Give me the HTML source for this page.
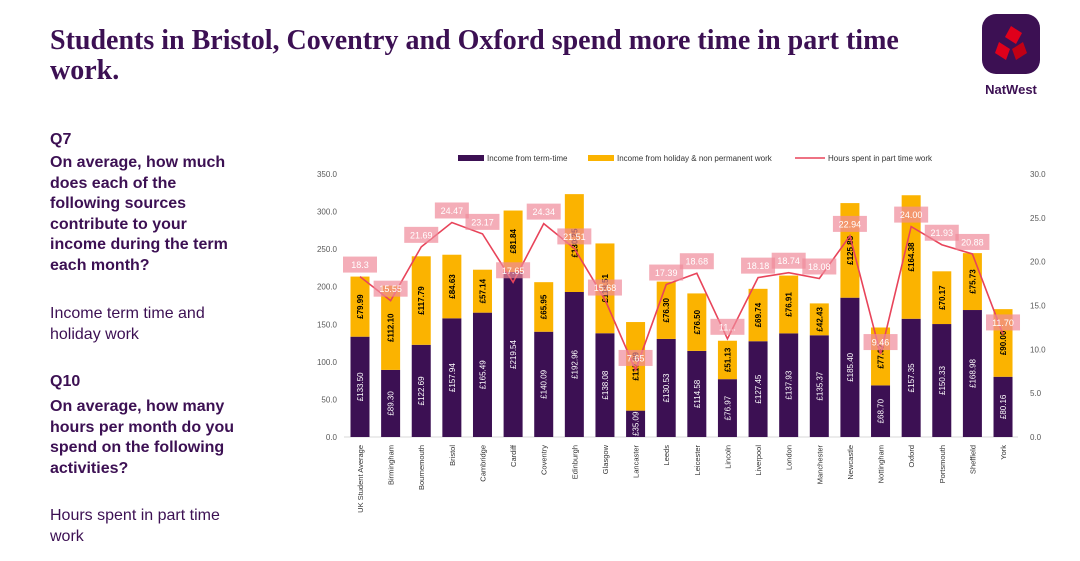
<!DOCTYPE html>
<html><head><meta charset="utf-8"><style>
body{margin:0;width:1080px;height:561px;background:#fff;overflow:hidden;position:relative;font-family:"Liberation Sans",sans-serif;color:#3c1053}
.t{position:absolute;left:50px;top:26px;font-family:"Liberation Serif",serif;font-weight:bold;font-size:28px;line-height:30px;width:880px}
.p{position:absolute;left:50px;font-size:16px;line-height:20.5px;width:196px}
.b{font-weight:bold}
</style></head><body>
<div class="t">Students in Bristol, Coventry and Oxford spend more time in part time work.</div>
<div class="p b" style="top:130px">Q7</div>
<div class="p b" style="top:153px">On average, how much does each of the following sources contribute to your income during the term each month?</div>
<div class="p" style="top:304px">Income term time and holiday work</div>
<div class="p b" style="top:372px">Q10</div>
<div class="p b" style="top:397px">On average, how many hours per month do you spend on the following activities?</div>
<div class="p" style="top:506px">Hours spent in part time work</div>
<svg style="position:absolute;left:980px;top:12px" width="62" height="90">
<rect x="2" y="2" width="58" height="60" rx="14" fill="#3c1053"/>
<polygon points="31,14 42,21 36,32 25,25" fill="#e0001b"/><polygon points="19,30 30,37 26,48 15,41" fill="#e0001b"/><polygon points="43,30 47,41 36,48 32,37" fill="#c00015"/>
<text x="31" y="82" text-anchor="middle" font-size="13" font-weight="bold" fill="#3c1053" font-family="Liberation Sans,sans-serif">NatWest</text>
</svg>
<svg id="c" style="position:absolute;left:0;top:0" width="1080" height="561" font-family="Liberation Sans,sans-serif"></svg>
<script>
const cats=["UK Student Average","Birmingham","Bournemouth","Bristol","Cambridge","Cardiff","Coventry","Edinburgh","Glasgow","Lancaster","Leeds","Leicester","Lincoln","Liverpool","London","Manchester","Newcastle","Nottingham","Oxford","Portsmouth","Sheffield","York"];
const termTime=[133.50,89.30,122.69,157.94,165.49,219.54,140.09,192.96,138.08,35.09,130.53,114.58,76.97,127.45,137.93,135.37,185.40,68.70,157.35,150.33,168.98,80.16];
const holiday=[79.99,112.10,117.79,84.63,57.14,81.84,65.95,130.25,119.51,117.89,76.30,76.50,51.13,69.74,76.91,42.43,125.88,77.02,164.38,70.17,75.73,90.00];
const hours=[18.3,15.55,21.69,24.47,23.17,17.65,24.34,21.51,15.68,7.65,17.39,18.68,11.2,18.18,18.74,18.08,22.94,9.46,24.00,21.93,20.88,11.70];
const hourLabels=["18.3","15.55","21.69","24.47","23.17","17.65","24.34","21.51","15.68","7.65","17.39","18.68","11...","18.18","18.74","18.08","22.94","9.46","24.00","21.93","20.88","11.70"];
const leftTicks=[0,50,100,150,200,250,300,350];
const rightTicks=[0,5,10,15,20,25,30];
const svg=document.getElementById('c'),NS='http://www.w3.org/2000/svg';
const y0=437,yTop=174,x0=360,step=30.62;
const yL=v=>y0-(y0-yTop)*v/350, yR=v=>y0-(y0-yTop)*v/30, xC=i=>x0+i*step;
function mk(t,a,p){const e=document.createElementNS(NS,t);for(const k in a)e.setAttribute(k,a[k]);(p||svg).appendChild(e);return e;}
let e;
leftTicks.forEach(v=>{e=mk('text',{x:337,y:yL(v)+3,'text-anchor':'end','font-size':8,fill:'#595959'});e.textContent=v.toFixed(1);
});
rightTicks.forEach(v=>{e=mk('text',{x:1030,y:yR(v)+3,'font-size':8,fill:'#595959'});e.textContent=v.toFixed(1);
});
mk('line',{x1:344,x2:1018,y1:y0,y2:y0,stroke:'#d9d9d9'});
cats.forEach((c,i)=>{const x=xC(i);
let r=mk('rect',{x:x-9.5,y:yL(termTime[i]),width:19,height:y0-yL(termTime[i]),fill:'#3c1053'});

r=mk('rect',{x:x-9.5,y:yL(termTime[i]+holiday[i]),width:19,height:yL(termTime[i])-yL(termTime[i]+holiday[i]),fill:'#fbb300'});

let ym=(yL(termTime[i])+y0)/2;
e=mk('text',{x:0,y:0,transform:`translate(${x+3},${ym}) rotate(-90)`,'text-anchor':'middle','font-size':8,fill:'#fff'});e.textContent='£'+termTime[i].toFixed(2);

ym=(yL(termTime[i])+yL(termTime[i]+holiday[i]))/2;
e=mk('text',{x:0,y:0,transform:`translate(${x+3},${ym}) rotate(-90)`,'text-anchor':'middle','font-size':8,'font-weight':'bold',fill:'#000'});e.textContent='£'+holiday[i].toFixed(2);

e=mk('text',{x:0,y:0,transform:`translate(${x+3},${y0+8}) rotate(-90)`,'text-anchor':'end','font-size':7.5,fill:'#333'});e.textContent=c;

});
const pl=mk('polyline',{points:hours.map((h,i)=>xC(i)+','+yR(h)).join(' '),fill:'none',stroke:'#e8445a','stroke-width':1.6});

hours.forEach((h,i)=>{const x=xC(i),y=yR(h)-12;
let r=mk('rect',{x:x-17,y:y-8,width:34,height:16,fill:'#f08a9a','fill-opacity':0.7});

e=mk('text',{x:x,y:y+3.5,'text-anchor':'middle','font-size':9,fill:'#fff'});e.textContent=hourLabels[i];
});
const lg=[[458,'#3c1053','Income from term-time','rect'],[588,'#fbb300','Income from holiday & non permanent work','rect'],[795,'#e8445a','Hours spent in part time work','line']];
lg.forEach(l=>{if(l[3]=='rect')e=mk('rect',{x:l[0],y:155,width:26,height:6,fill:l[1]});else e=mk('line',{x1:l[0],x2:l[0]+30,y1:158,y2:158,stroke:l[1],'stroke-width':1.5});

e=mk('text',{x:l[0]+(l[3]=='rect'?29:33),y:161,'font-size':8,fill:'#333'});e.textContent=l[2];
});
</script>
</body></html>
